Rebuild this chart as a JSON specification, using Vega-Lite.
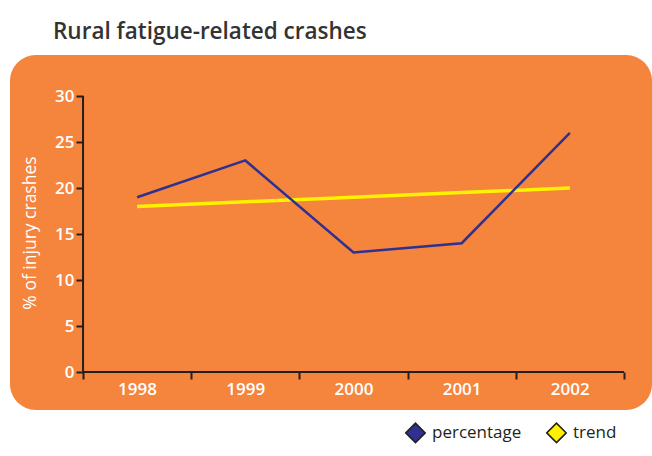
{
  "$schema": "https://vega.github.io/schema/vega-lite/v6.json",
  "width": 642,
  "height": 355,
  "autosize": {"type": "none"},
  "padding": {"left": 10, "top": 55, "right": 0, "bottom": 46},
  "background": "white",
  "view": {"fill": "#F5843C", "stroke": null, "cornerRadius": 26},
  "config": {"font": "Open Sans"},
  "title": {
    "text": "Rural fatigue-related crashes",
    "anchor": "start",
    "dx": 43,
    "offset": 12,
    "fontSize": 22.5,
    "font": "Open Sans",
    "fontWeight": 600,
    "color": "#333333"
  },
  "datasets": {
    "series": [
      {"year": 1998, "value": 19, "series": "percentage"},
      {"year": 1999, "value": 23, "series": "percentage"},
      {"year": 2000, "value": 13, "series": "percentage"},
      {"year": 2001, "value": 14, "series": "percentage"},
      {"year": 2002, "value": 26, "series": "percentage"},
      {"year": 1998, "value": 18, "series": "trend"},
      {"year": 1999, "value": 18.5, "series": "trend"},
      {"year": 2000, "value": 19, "series": "trend"},
      {"year": 2001, "value": 19.5, "series": "trend"},
      {"year": 2002, "value": 20, "series": "trend"}
    ],
    "xaxisline": [{"year": 1997.5, "year2": 2002.5, "value": 0}],
    "yaxisline": [{"year": 1997.5, "value": 0, "value2": 30}]
  },
  "layer": [
    {
      "data": {"name": "xaxisline"},
      "mark": {"type": "rule", "color": "#231F20", "strokeWidth": 2},
      "encoding": {
        "x": {
          "field": "year",
          "type": "quantitative",
          "scale": {"domain": [1996.825, 2002.759], "nice": false, "zero": false},
          "axis": {
            "title": null,
            "orient": "bottom",
            "offset": -38,
            "domain": false,
            "grid": false,
            "values": [1997.5, 1998.5, 1999.5, 2000.5, 2001.5, 2002.5],
            "labelExpr": "datum.value < 2002 ? format(datum.value + 0.5, 'd') : ''",
            "labelOffset": 54,
            "labelOverlap": false,
            "labelFlush": false,
            "labelBound": false,
            "tickColor": "#231F20",
            "tickWidth": 2,
            "tickSize": 7,
            "labelColor": "white",
            "labelFontSize": 17,
            "labelFontWeight": 600,
            "labelFont": "Open Sans",
            "labelPadding": 2
          }
        },
        "x2": {"field": "year2"},
        "y": {
          "field": "value",
          "type": "quantitative",
          "scale": {"domain": [-4.13, 34.46], "nice": false, "zero": false},
          "axis": {
            "title": "% of injury crashes",
            "orient": "left",
            "offset": -73,
            "domain": false,
            "grid": false,
            "values": [0, 5, 10, 15, 20, 25, 30],
            "tickColor": "#231F20",
            "tickWidth": 2,
            "tickSize": 7,
            "labelColor": "white",
            "labelFontSize": 17,
            "labelFontWeight": 600,
            "labelFont": "Open Sans",
            "labelPadding": 2,
            "titleColor": "white",
            "titleFontSize": 17.5,
            "titleFontWeight": "normal",
            "titleFont": "Open Sans",
            "titlePadding": 15
          }
        }
      }
    },
    {
      "data": {"name": "yaxisline"},
      "mark": {"type": "rule", "color": "#231F20", "strokeWidth": 2},
      "encoding": {
        "x": {"field": "year", "type": "quantitative"},
        "y": {"field": "value", "type": "quantitative"},
        "y2": {"field": "value2"}
      }
    },
    {
      "data": {"name": "series"},
      "mark": {"type": "line", "strokeWidth": 3.5, "color": "#FFF200"},
      "transform": [{"filter": "datum.series == 'trend'"}],
      "encoding": {
        "x": {"field": "year", "type": "quantitative"},
        "y": {"field": "value", "type": "quantitative"}
      }
    },
    {
      "data": {"name": "series"},
      "mark": {"type": "line", "strokeWidth": 2.5, "color": "#2E3192"},
      "transform": [{"filter": "datum.series == 'percentage'"}],
      "encoding": {
        "x": {"field": "year", "type": "quantitative"},
        "y": {"field": "value", "type": "quantitative"}
      }
    },
    {
      "data": {"name": "series"},
      "mark": {"type": "point", "filled": true, "shape": "diamond", "size": 0, "stroke": "#231F20", "strokeWidth": 1.5},
      "encoding": {
        "x": {"field": "year", "type": "quantitative"},
        "y": {"field": "value", "type": "quantitative"},
        "fill": {
          "field": "series",
          "type": "nominal",
          "scale": {"domain": ["percentage", "trend"], "range": ["#2E3192", "#FFF200"]},
          "legend": {
            "title": null,
            "orient": "none",
            "legendX": 395,
            "legendY": 367,
            "direction": "horizontal",
            "symbolType": "diamond",
            "symbolSize": 380,
            "symbolStrokeWidth": 1.5,
            "symbolStrokeColor": "#231F20",
            "symbolOpacity": 1,
            "labelFontSize": 17,
            "labelFont": "Open Sans",
            "labelColor": "#231F20",
            "labelOffset": 6,
            "columnPadding": 21
          }
        }
      }
    }
  ]
}
